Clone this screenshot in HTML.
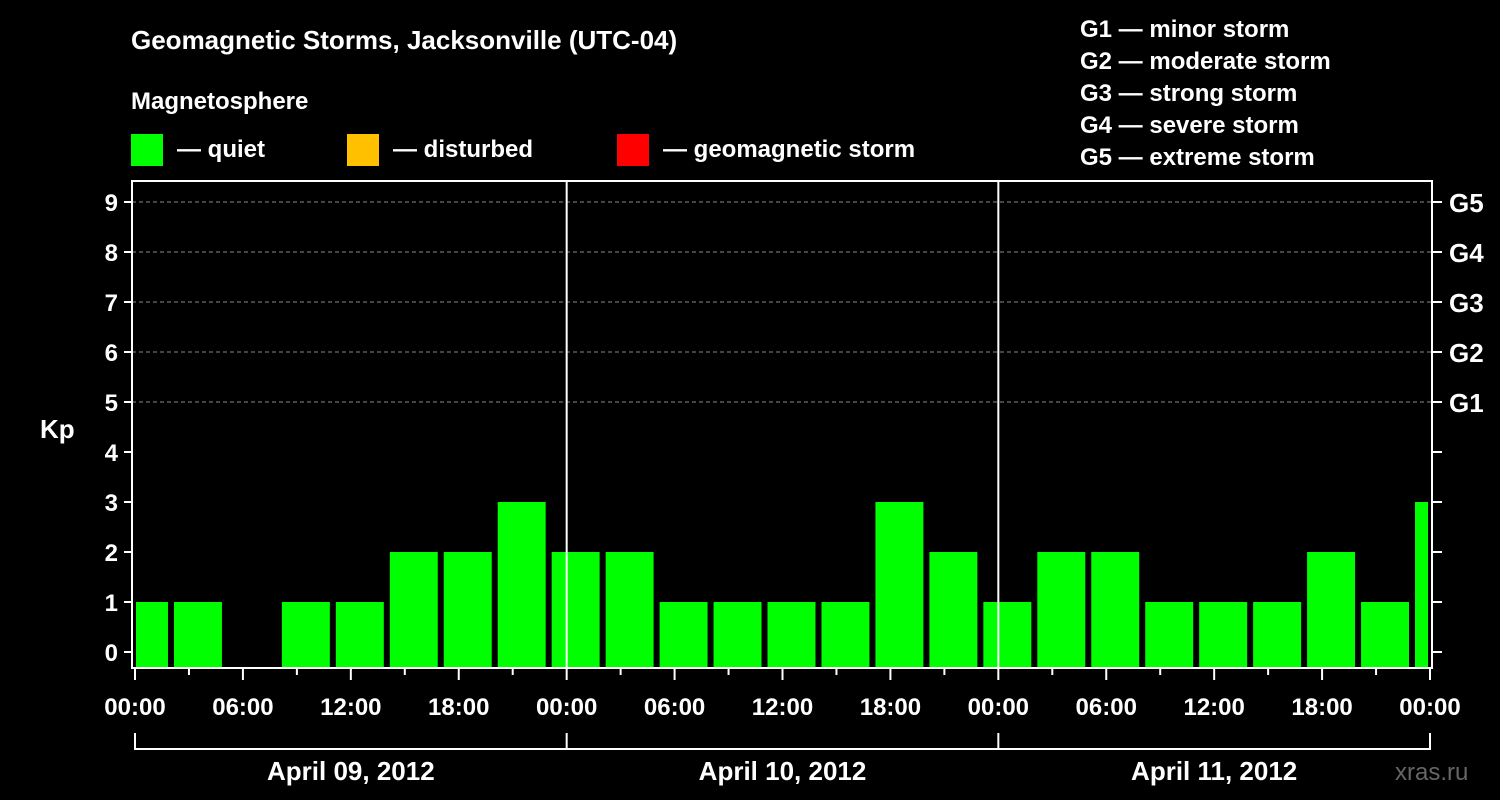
<!DOCTYPE html>
<html><head><meta charset="utf-8"><style>
html,body{margin:0;padding:0;background:#000;}
svg{display:block;font-family:"Liberation Sans",Arial,sans-serif;font-weight:bold;}
</style></head><body>
<svg id="chart" width="1500" height="800" viewBox="0 0 1500 800">
<rect x="0" y="0" width="1500" height="800" fill="#000"/>
<text x="131" y="49" fill="#fff" font-size="26">Geomagnetic Storms, Jacksonville (UTC-04)</text>
<text x="131" y="109" fill="#fff" font-size="24">Magnetosphere</text>
<g><rect x="131" y="134" width="32" height="32" fill="#00ff00"/><text x="177" y="157" fill="#fff" font-size="24">— quiet</text></g>
<g><rect x="347" y="134" width="32" height="32" fill="#ffc000"/><text x="393" y="157" fill="#fff" font-size="24">— disturbed</text></g>
<g><rect x="617" y="134" width="32" height="32" fill="#ff0000"/><text x="663" y="157" fill="#fff" font-size="24">— geomagnetic storm</text></g>
<g fill="#fff" font-size="24">
<text x="1080" y="37">G1 — minor storm</text>
<text x="1080" y="69">G2 — moderate storm</text>
<text x="1080" y="101">G3 — strong storm</text>
<text x="1080" y="133">G4 — severe storm</text>
<text x="1080" y="165">G5 — extreme storm</text>
</g>
<text x="40" y="438" fill="#fff" font-size="26">Kp</text>
<text x="1395" y="780" fill="#666" font-size="24" font-weight="normal">xras.ru</text>
<g id="grid"></g>
<g id="bars"></g>
<g id="axes"></g>
</svg>
<script>
const kpValues = [1,1,null,1,1,2,2,3,2,2,1,1,1,1,3,2,1,2,2,1,1,1,2,1,3];
const barStartHours = [-1,2,5,8,11,14,17,20,23,26,29,32,35,38,41,44,47,50,53,56,59,62,65,68,71];
const yTicks = [0,1,2,3,4,5,6,7,8,9];
const gLabels = ["G1","G2","G3","G4","G5"];
const gLevels = [5,6,7,8,9];
const xTickLabels = ["00:00","06:00","12:00","18:00","00:00","06:00","12:00","18:00","00:00","06:00","12:00","18:00","00:00"];
const dateLabels = ["April 09, 2012","April 10, 2012","April 11, 2012"];

const NS="http://www.w3.org/2000/svg";
const X0=135, X1=1430, H=72, Y0=652, PY=50, LEFT=132, RIGHT=1432, TOP=181, BOT=668;
const xs=h=>X0+(X1-X0)*h/H;
const ys=v=>Y0-v*PY;
function mk(tag,attrs,parent){const e=document.createElementNS(NS,tag);for(const k in attrs)e.setAttribute(k,attrs[k]);parent.appendChild(e);return e;}
const grid=document.getElementById('grid'),bars=document.getElementById('bars'),axes=document.getElementById('axes');

gLevels.forEach((v,i)=>{
  const l=mk('line',{x1:LEFT,x2:RIGHT,y1:ys(v),y2:ys(v),stroke:'#888','stroke-width':1,'stroke-dasharray':'4,3'},grid);
  
  
});

kpValues.forEach((v,i)=>{
  if(v===null)return;
  let x1=xs(barStartHours[i])+3, x2=xs(barStartHours[i]+3)-3;
  x1=Math.max(x1,136); x2=Math.min(x2,1428);
  if(x2<=x1)return;
  const top=ys(v), bottom=BOT;
  const c=v>=5?'#ff0000':(v>=4?'#ffc000':'#00ff00');
  const r=mk('rect',{x:x1,y:top,width:x2-x1,height:bottom-top,fill:c},bars);
  
  
});

// day separators
[24,48].forEach(h=>{
  const l=mk('line',{x1:xs(h),x2:xs(h),y1:TOP,y2:BOT,stroke:'#fff','stroke-width':2},axes);
  
  
});
// frame
const fr=mk('rect',{x:LEFT,y:TOP,width:RIGHT-LEFT,height:BOT-TOP,fill:'none',stroke:'#fff','stroke-width':2},axes);



yTicks.forEach(v=>{
  mk('line',{x1:LEFT-8,x2:LEFT,y1:ys(v),y2:ys(v),stroke:'#fff','stroke-width':2},axes);
  mk('line',{x1:RIGHT,x2:RIGHT+10,y1:ys(v),y2:ys(v),stroke:'#fff','stroke-width':2},axes);
  const t=mk('text',{x:LEFT-14,y:ys(v)+9,fill:'#fff','font-size':24,'text-anchor':'end'},axes);
  t.textContent=v;
  
  
});
gLevels.forEach((v,i)=>{
  const t=mk('text',{x:1449,y:ys(v)+10,fill:'#fff','font-size':26},axes);
  t.textContent=gLabels[i];
  
  
});
for(let h=0;h<=72;h+=3){
  const major=h%6===0;
  mk('line',{x1:xs(h),x2:xs(h),y1:BOT,y2:BOT+(major?12:7),stroke:'#fff','stroke-width':2},axes);
}
xTickLabels.forEach((s,i)=>{
  const t=mk('text',{x:xs(i*6),y:715,fill:'#fff','font-size':24,'text-anchor':'middle'},axes);
  t.textContent=s;
  
  
});
// date bracket
mk('line',{x1:xs(0),x2:xs(72),y1:749,y2:749,stroke:'#fff','stroke-width':2},axes);
[0,24,48,72].forEach(h=>mk('line',{x1:xs(h),x2:xs(h),y1:733,y2:750,stroke:'#fff','stroke-width':2},axes));
dateLabels.forEach((s,i)=>{
  const t=mk('text',{x:xs(i*24+12),y:780,fill:'#fff','font-size':26,'text-anchor':'middle'},axes);
  t.textContent=s;
  
  
});
</script>
</body></html>
